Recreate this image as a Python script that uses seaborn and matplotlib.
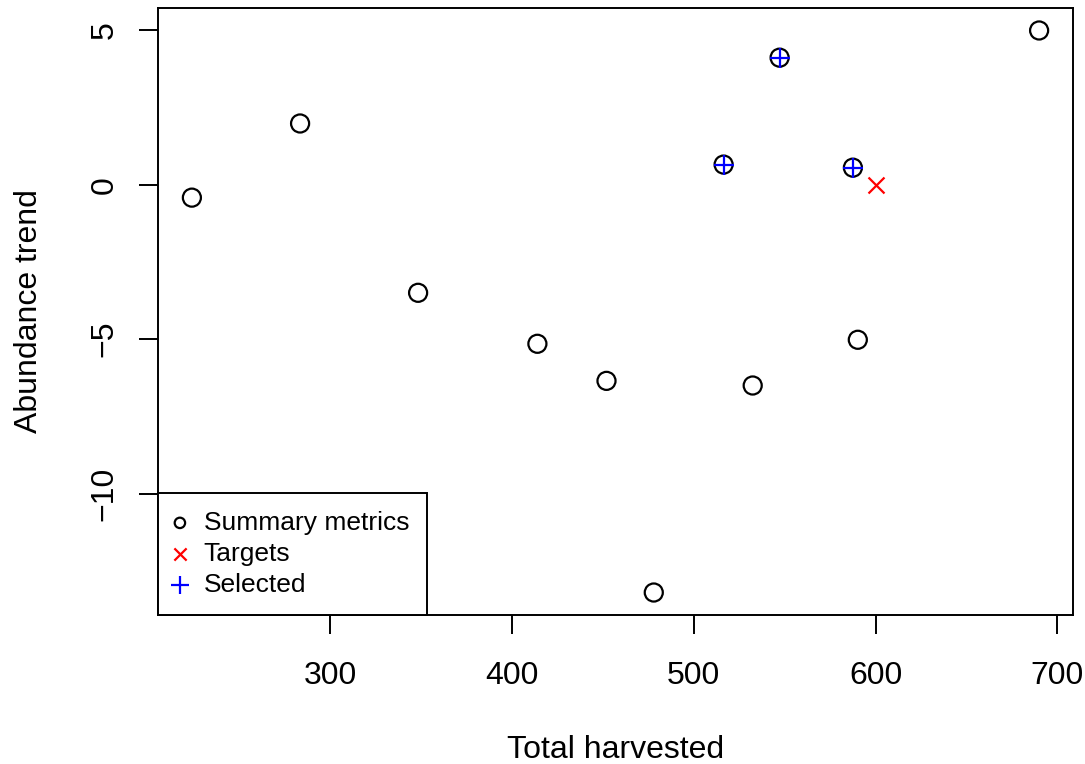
import numpy as np
import pandas as pd
import seaborn as sns
import matplotlib.pyplot as plt

# summary metrics
harvest = [224.0, 283.5, 348.4, 414.0, 452.0, 478.0, 532.4, 516.4, 547.2, 587.5, 590.2, 689.9]
trend = [-0.42, 1.98, -3.5, -5.15, -6.35, -13.2, -6.5, 0.65, 4.11, 0.55, -5.02, 4.99]
target_harvest = [600.0]
target_trend = [0.0]
selected = [7, 8, 9]  # indices of the selected runs

plt.rcParams['font.family'] = ['Liberation Sans', 'DejaVu Sans']

df = pd.DataFrame({'harvest': harvest, 'trend': trend})
df_sel = df.iloc[selected]
df_tgt = pd.DataFrame({'harvest': target_harvest, 'trend': target_trend})

fig = plt.figure(figsize=(10.85, 7.64), dpi=100)
ax = fig.add_axes([158/1085, 149/764, 915/1085, 607/764])

sns.scatterplot(data=df, x='harvest', y='trend', ax=ax, marker='o', s=13**2,
                facecolor='none', edgecolor='black', linewidth=1.6, label='Summary metrics')
sns.scatterplot(data=df_tgt, x='harvest', y='trend', ax=ax, marker='x', s=11.5**2,
                color='red', linewidth=1.6, label='Targets')
sns.scatterplot(data=df_sel, x='harvest', y='trend', ax=ax, marker='+', s=15**2,
                color='blue', linewidth=1.6, label='Selected')

# R-style 4% padding
xr = max(harvest) - min(harvest)
yr = max(trend) - min(trend)
ax.set_xlim(min(harvest) - 0.04*xr, max(harvest) + 0.04*xr)
ax.set_ylim(min(trend) - 0.04*yr, max(trend) + 0.04*yr)

ax.set_xticks([300, 400, 500, 600, 700])
ax.set_yticks([-10, -5, 0, 5])
ax.tick_params(direction='out', length=14, width=1.4, labelsize=23)
ax.tick_params(axis='x', pad=19)
ax.tick_params(axis='y', pad=13.5)
for lab in ax.get_yticklabels():
    lab.set_rotation(90)
    lab.set_va('center')
for sp in ax.spines.values():
    sp.set_linewidth(1.4)
    sp.set_color('black')

ax.set_xlabel('Total harvested', fontsize=23, labelpad=32)
ax.set_ylabel('Abundance trend', fontsize=23, labelpad=33)

leg = ax.legend(loc='lower left', borderaxespad=0, fontsize=19, frameon=True,
                fancybox=False, handletextpad=0.75, borderpad=0.68, labelspacing=0.27,
                handlelength=0.3)
leg.get_frame().set_edgecolor('black')
leg.get_frame().set_linewidth(1.4)
leg.get_frame().set_alpha(1)
for h, sz in zip(leg.legend_handles, [7.5**2, 8.8**2, 13**2]):
    h.set_sizes([sz])

fig.savefig('out.png', dpi=100)
